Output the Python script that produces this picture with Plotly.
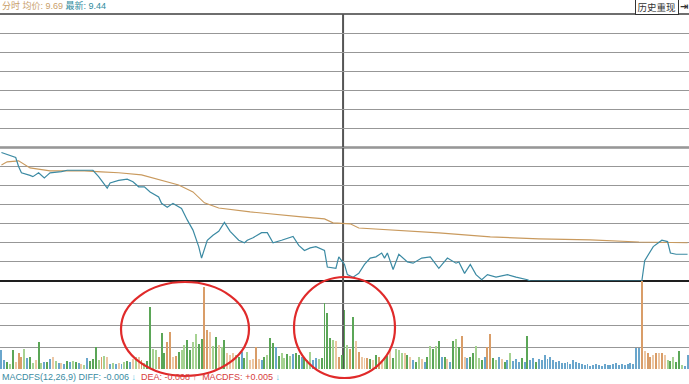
import plotly.graph_objects as go

# ---------------- data ----------------
prev_close = 10.4889

price_minutes = [0, 5, 6, 7, 10, 11, 13, 15, 16, 17, 21, 23, 28, 32, 34, 37, 38, 41, 44, 46,
                 48, 50, 52, 55, 56, 58, 60, 63, 65, 67, 69, 70, 72, 74, 76, 78, 80, 83, 85, 86,
                 88, 91, 93, 95, 98, 102, 104, 106, 108, 110, 113, 114, 117, 118, 120, 121, 123, 125, 127, 129,
                 131, 133, 134, 135, 137, 139, 142, 144, 147, 150, 153, 156, 159, 160, 162, 164, 166, 168, 170, 173,
                 177, 180, 184, 185, 224, 225, 228, 231, 233, 234, 236, 240]
price_values = [10.45, 10.41, 10.34, 10.29, 10.27, 10.26, 10.29, 10.25, 10.27, 10.29,
                10.30, 10.31, 10.31, 10.31, 10.26, 10.17, 10.21, 10.23, 10.24, 10.22,
                10.18, 10.18, 10.14, 10.10, 10.05, 10.02, 10.05, 10.01, 9.92, 9.84,
                9.71, 9.62, 9.76, 9.80, 9.83, 9.90, 9.83, 9.76, 9.74, 9.76,
                9.78, 9.82, 9.82, 9.74, 9.76, 9.79, 9.72, 9.68, 9.70, 9.71,
                9.68, 9.55, 9.54, 9.63, 9.57, 9.49, 9.47, 9.50, 9.57, 9.62,
                9.63, 9.66, 9.62, 9.66, 9.53, 9.65, 9.59, 9.58, 9.62, 9.63,
                9.54, 9.62, 9.58, 9.59, 9.50, 9.57, 9.49, 9.45, 9.49, 9.47,
                9.49, 9.47, 9.45, 9.44, 9.44, 9.60, 9.71, 9.76, 9.75, 9.66,
                9.65, 9.65]

avg_minutes = [0, 2, 6, 10, 17, 29, 35, 41, 49, 55, 62, 67, 71, 76, 87, 105, 113, 116, 122, 125,
               136, 153, 171, 188, 206, 223, 240]
avg_values = [10.352, 10.376, 10.384, 10.329, 10.305, 10.305, 10.297, 10.290, 10.274, 10.235,
              10.195, 10.140, 10.054, 10.014, 9.983, 9.944, 9.928, 9.897, 9.889, 9.857,
              9.842, 9.818, 9.787, 9.771, 9.763, 9.747, 9.740]

volumes = [
    19, 9, 7, 5, 19, 7, 16, 12, 20, 11,
    12, 6, 9, 27, 6, 7, 7, 10, 12, 8,
    6, 6, 5, 8, 7, 8, 7, 6, 5, 4,
    11, 8, 10, 22, 9, 12, 13, 12, 5, 6,
    5, 6, 5, 7, 8, 7, 10, 12, 12, 9,
    6, 8, 62, 20, 19, 12, 36, 16, 27, 37,
    12, 13, 17, 19, 24, 29, 19, 27, 35, 25,
    30, 82, 39, 37, 23, 32, 24, 22, 29, 16,
    14, 16, 14, 12, 17, 11, 17, 9, 10, 22,
    10, 9, 12, 14, 31, 26, 22, 13, 16, 11,
    15, 13, 15, 16, 14, 12, 11, 9, 17, 9,
    11, 10, 11, 66, 56, 31, 29, 28, 12, 14,
    59, 24, 20, 52, 28, 17, 12, 11, 11, 10,
    9, 14, 12, 7, 12, 13, 19, 11, 20, 19,
    16, 16, 14, 12, 9, 7, 12, 10, 7, 12,
    23, 20, 23, 28, 12, 12, 10, 7, 28, 30,
    22, 33, 12, 11, 12, 16, 23, 11, 9, 12,
    22, 35, 11, 9, 12, 10, 7, 9, 16, 8,
    10, 7, 11, 7, 33, 9, 11, 7, 10, 9,
    14, 10, 12, 9, 7, 8, 6, 6, 7, 5,
    9, 7, 6, 5, 4, 5, 3, 4, 5, 4,
    3, 5, 4, 4, 5, 6, 4, 5, 4, 5,
    6, 5, 21, 21, 120, 18, 16, 12, 14, 16,
    16, 16, 14, 9, 8, 12, 7, 18, 4, 3,
    14,
]

vol_color_codes = (
    "bbglgpoolb" "glpglbgbpl" "bpbgblgbpl" "bggglolpbl" "bpblgbplpo"
    "lgglloggoo" "pogllggllg" "gooplgplgp" "pplgbglppo" "pbglggbgll"
    "glbggbgllb" "blgggglpog" "glogpoppog" "pgoplgpgll" "lpgpbglpbg"
    "lglgbgpbgl" "gopbggllgb" "ooglbpgblb" "bbgbgbbgbb" "bbbbbbbbbb"
    "bbbbbbbbbb" "bbbbbbbbbb" "bbbbopoopo" "poplglgglb" "b"
)

minutes = list(range(len(volumes)))

# ---------------- styling ----------------
W, H = 689, 384
def py(y):
    return 1 - y / H
def px(x):
    return x / W

palette = {"g": "#5ba657", "l": "#a6d292", "o": "#d99d68", "p": "#ecc7a4", "b": "#6aa6cc"}
bar_colors = [palette[c] for c in vol_color_codes]

price_top, price_bot = 14, 281
vol_bot = 369
font_family = "Liberation Sans, Arial, Noto Sans CJK SC"

fig = go.Figure()

fig.add_trace(go.Scatter(x=avg_minutes, y=avg_values, mode="lines",
                         line=dict(color="#c99a5e", width=1.1),
                         xaxis="x", yaxis="y", hoverinfo="skip"))
fig.add_trace(go.Scatter(x=price_minutes, y=price_values, mode="lines",
                         line=dict(color="#3b8aa3", width=1.2),
                         xaxis="x", yaxis="y", hoverinfo="skip"))
fig.add_trace(go.Bar(x=minutes, y=volumes, marker=dict(color=bar_colors, line=dict(width=0)),
                     width=0.34, xaxis="x2", yaxis="y2", hoverinfo="skip"))

grid = "#979797"
fig.update_layout(
    width=W, height=H,
    margin=dict(l=0, r=0, t=0, b=0),
    paper_bgcolor="white", plot_bgcolor="white",
    showlegend=False,
    bargap=0,
    xaxis=dict(domain=[0, 1], range=[-0.5, 240.5], showgrid=False, zeroline=False,
               showticklabels=False, ticks="", anchor="y", fixedrange=True),
    yaxis=dict(domain=[py(price_bot), py(price_top)],
               range=[prev_close * 0.9, prev_close * 1.1],
               tick0=prev_close, dtick=prev_close * 0.1 / 7,
               showgrid=True, gridcolor=grid, gridwidth=1, zeroline=False,
               showticklabels=False, ticks=""),
    xaxis2=dict(domain=[0, 1], range=[-0.5, 240.5], showgrid=False, zeroline=False,
                showticklabels=False, ticks="", anchor="y2", matches="x"),
    yaxis2=dict(domain=[py(vol_bot), py(price_bot)], range=[0, 88],
                tickvals=[22, 44, 66], showgrid=True, gridcolor=grid, gridwidth=1,
                zeroline=False, showticklabels=False, ticks=""),
)

shapes = [
    # top border
    dict(type="line", xref="paper", yref="paper", x0=0, x1=1, y0=py(price_top), y1=py(price_top),
         line=dict(color="#6e6e6e", width=2), layer="between"),
    # previous close line
    dict(type="line", xref="paper", yref="y", x0=0, x1=1, y0=prev_close, y1=prev_close,
         line=dict(color="#5a5a5a", width=2), layer="between"),
    # bottom border of price panel
    dict(type="line", xref="paper", yref="paper", x0=0, x1=1, y0=py(price_bot), y1=py(price_bot),
         line=dict(color="#1e1e1e", width=2), layer="between"),
    # noon divider
    dict(type="line", xref="x", yref="paper", x0=119.5, x1=119.5, y0=py(vol_bot), y1=py(price_top),
         line=dict(color="#555555", width=2), layer="between"),
    # red hand-drawn ellipses
    dict(type="circle", xref="paper", yref="paper", x0=px(121), x1=px(249), y0=py(376), y1=py(282),
         line=dict(color="#e02a2a", width=2.2)),
    dict(type="circle", xref="paper", yref="paper", x0=px(294), x1=px(395), y0=py(378), y1=py(277),
         line=dict(color="#e02a2a", width=2.2)),
]
fig.update_layout(shapes=shapes)

annotations = [
    dict(xref="paper", yref="paper", x=0, y=py(5.5), xanchor="left", yanchor="middle", showarrow=False,
         text='<span style="color:#c9a06a">分时 均价: 9.69</span> <span style="color:#2f8b9d">最新: 9.44</span>',
         font=dict(family=font_family, size=9)),
    dict(xref="paper", yref="paper", x=px(656.5), y=py(7), xanchor="center", yanchor="middle", showarrow=False,
         text="历史重现", font=dict(family=font_family, size=9.5, color="#333333"),
         bordercolor="#333333", borderwidth=1, borderpad=1.5, bgcolor="white"),
    dict(xref="paper", yref="paper", x=px(684), y=py(7), xanchor="center", yanchor="middle", showarrow=False,
         text="<b>⇥</b>", font=dict(family="DejaVu Sans", size=10, color="#333333")),
    dict(xref="paper", yref="paper", x=0, y=py(377), xanchor="left", yanchor="middle", showarrow=False,
         text=('<span style="color:#3a8ba2">MACDFS(12,26,9) DIFF: -0.006</span> '
               '<span style="color:#5cc6e6"><b>↓</b></span>  '
               '<span style="color:#d64040">DEA: -0.008 <b>↑</b></span>  '
               '<span style="color:#d64040">MACDFS: +0.005</span> '
               '<span style="color:#5cc6e6"><b>↓</b></span>'),
         font=dict(family=font_family, size=9)),
]
fig.update_layout(annotations=annotations)

fig.write_html("out.html")
